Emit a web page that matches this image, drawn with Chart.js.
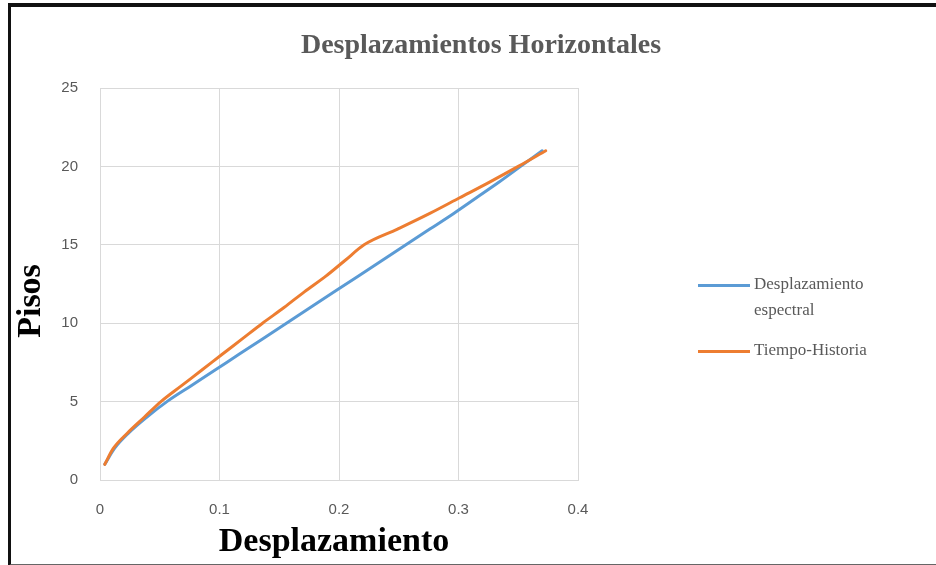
<!DOCTYPE html>
<html>
<head>
<meta charset="utf-8">
<script src="https://cdn.jsdelivr.net/npm/chart.js@4.4.1/dist/chart.umd.min.js"></script>
<style>
  html, body { margin: 0; padding: 0; background: #fff; }
  body { width: 936px; height: 565px; position: relative; overflow: hidden; }
  #marco {
    position: absolute; left: 8px; top: 3px; width: 940px; height: 557px;
    border-top: 4px solid #111; border-left: 3px solid #111; border-bottom: 2px solid #666;
  }
  #grafico { position: absolute; left: 0; top: 0; }
  #leyenda {
    position: absolute; left: 698px; top: 271px;
    font-family: "Liberation Serif", serif; font-size: 17px; color: #595959;
  }
  .item { display: flex; align-items: flex-start; margin-bottom: 14px; }
  .linea { width: 52px; height: 3px; margin-top: 13px; margin-right: 4px; flex: none; }
  .texto { width: 150px; line-height: 26px; }
</style>
</head>
<body>
<div id="marco"></div>
<canvas id="grafico" width="936" height="565"></canvas>
<div id="leyenda"></div>
<script>
// pisos del edificio y desplazamientos por piso
var pisos = [1, 2, 3, 4, 5, 6, 7, 8, 9, 10, 11, 12, 13, 14, 15, 16, 17, 18, 19, 20, 21];
var desplEspectral = [0.004, 0.012, 0.024, 0.039, 0.056, 0.076, 0.096, 0.116, 0.136, 0.156, 0.176, 0.196, 0.216, 0.236, 0.256, 0.276, 0.296, 0.315, 0.334, 0.352, 0.370];
var tiempoHistoria = [0.004, 0.011, 0.023, 0.037, 0.051, 0.068, 0.085, 0.102, 0.119, 0.136, 0.154, 0.171, 0.189, 0.205, 0.221, 0.249, 0.276, 0.301, 0.326, 0.350, 0.373];
var series = ["Desplazamiento espectral", "Tiempo-Historia"];
var colores = ["#5b9bd5", "#ed7d31"];
var ticksX = [0, 0.1, 0.2, 0.3, 0.4];
var ticksY = [0, 5, 10, 15, 20, 25];
var titulo = "Desplazamientos Horizontales";
var tituloX = "Desplazamiento";
var tituloY = "Pisos";

function puntos(valores) {
  return valores.map(function (v, i) { return { x: v, y: pisos[i] }; });
}

var gris = "#595959";
var grilla = "#d9d9d9";

// titulo y rotulos de ejes dibujados a mano
var rotulos = {
  id: "rotulos",
  afterDraw: function (chart) {
    var c = chart.ctx;
    c.save();
    c.textAlign = "center";
    c.textBaseline = "middle";
    c.fillStyle = gris;
    c.font = 'bold 28px "Liberation Serif"';
    c.fillText(titulo, 481, 46);
    c.fillStyle = "#000";
    c.font = 'bold 34px "Liberation Serif"';
    c.fillText(tituloX, 334, 542);
    c.translate(31, 301);
    c.rotate(-Math.PI / 2);
    c.fillText(tituloY, 0, 0);
    c.restore();
  }
};

var ctx = document.getElementById("grafico").getContext("2d");
var chart = new Chart(ctx, {
  type: "scatter",
  data: {
    datasets: [
      {
        label: series[0],
        data: puntos(desplEspectral),
        borderColor: colores[0],
        backgroundColor: colores[0],
        order: 2
      },
      {
        label: series[1],
        data: puntos(tiempoHistoria),
        borderColor: colores[1],
        backgroundColor: colores[1],
        order: 1
      }
    ]
  },
  options: {
    responsive: false,
    animation: false,
    showLine: true,
    elements: {
      line: { borderWidth: 3, cubicInterpolationMode: "monotone", borderCapStyle: "round" },
      point: { radius: 0, hoverRadius: 0 }
    },
    layout: { padding: { left: 0, right: 358, top: 88, bottom: 0 } },
    plugins: {
      legend: { display: false },
      tooltip: { enabled: false }
    },
    scales: {
      x: {
        type: "linear",
        min: ticksX[0],
        max: ticksX[ticksX.length - 1],
        afterBuildTicks: function (axis) { axis.ticks = ticksX.map(function (v) { return { value: v }; }); },
        afterFit: function (axis) { axis.height = 85; },
        grid: { color: grilla, drawTicks: false },
        border: { color: grilla },
        ticks: { color: gris, font: { family: "Liberation Sans", size: 15 }, padding: 21 }
      },
      y: {
        type: "linear",
        min: ticksY[0],
        max: ticksY[ticksY.length - 1],
        afterBuildTicks: function (axis) { axis.ticks = ticksY.map(function (v) { return { value: v }; }); },
        afterFit: function (axis) { axis.width = 100; },
        grid: { color: grilla, drawTicks: false },
        border: { color: grilla },
        ticks: { color: gris, font: { family: "Liberation Sans", size: 15 }, padding: 22 }
      }
    }
  },
  plugins: [rotulos]
});

// leyenda en HTML para poder partir la etiqueta en dos líneas
var leyenda = document.getElementById("leyenda");
chart.data.datasets.forEach(function (ds) {
  var item = document.createElement("div");
  item.className = "item";
  var linea = document.createElement("div");
  linea.className = "linea";
  linea.style.background = ds.borderColor;
  var texto = document.createElement("div");
  texto.className = "texto";
  texto.textContent = ds.label;
  item.appendChild(linea);
  item.appendChild(texto);
  leyenda.appendChild(item);
});
</script>
</body>
</html>
